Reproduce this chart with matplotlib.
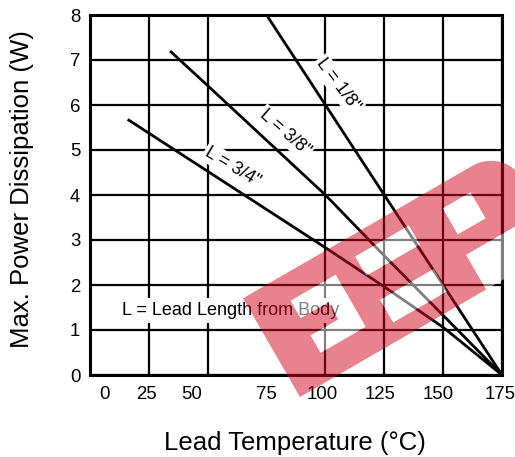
import matplotlib
matplotlib.use("Agg")
import matplotlib.pyplot as plt
import matplotlib.patches as mpatches
from matplotlib.path import Path
from matplotlib.transforms import Affine2D
import numpy as np

# ---- data ----
temp_18 = [75, 125, 175]          # L = 1/8"
power_18 = [8.0, 4.0, 0.0]
temp_38 = [34, 50, 100, 125, 175]  # L = 3/8"
power_38 = [7.2, 6.43, 4.0, 2.65, 0.0]
temp_34 = [16, 100, 125, 150, 175]  # L = 3/4"
power_34 = [5.68, 2.83, 1.96, 1.06, 0.0]

x_labels = ["0", "25", "50", "75", "100", "125", "150", "175"]
x_label_pos = [6, 24, 43, 75, 98.5, 123, 148, 174]
x_grid = [0, 25, 50, 75, 100, 125, 150, 175]
y_ticks = [0, 1, 2, 3, 4, 5, 6, 7, 8]

plt.rcParams['font.family'] = ['Liberation Sans', 'DejaVu Sans']

W, H = 515, 457
fig = plt.figure(figsize=(W / 100, H / 100), dpi=100)
ax = fig.add_axes([90 / W, 1 - 375 / H, 412 / W, 360 / H])

ax.set_xlim(0, 175)
ax.set_ylim(0, 8)

ax.set_xticks(x_grid, minor=True)
ax.set_xticks(x_label_pos, labels=x_labels)
ax.set_yticks(y_ticks)
ax.grid(which='minor', axis='x', color='black', lw=1.6)
ax.grid(which='major', axis='y', color='black', lw=1.6)
ax.tick_params(which='both', length=0)
ax.tick_params(axis='x', pad=8, labelsize=13.4)
ax.tick_params(axis='y', pad=7, labelsize=13.4)
for s in ax.spines.values():
    s.set_linewidth(2.2)
    s.set_color('black')
ax.set_axisbelow(True)

lk = dict(color='black', lw=2.0, solid_capstyle='butt', zorder=3)
ax.plot(temp_18, power_18, **lk)
ax.plot(temp_38, power_38, **lk)
ax.plot(temp_34, power_34, **lk)

bb = dict(facecolor='white', edgecolor='none', pad=1.5)
ax.text(105.3, 6.44, 'L = 1/8"', rotation=-53, ha='center', va='center',
        fontsize=13, bbox=bb, zorder=4)
ax.text(82.8, 5.38, 'L = 3/8"', rotation=-41, ha='center', va='center',
        fontsize=13, bbox=bb, zorder=4)
ax.text(60.7, 4.62, 'L = 3/4"', rotation=-31, ha='center', va='center',
        fontsize=13, bbox=bb, zorder=4)
ax.text(59.9, 1.44, 'L = Lead Length from Body', ha='center', va='center',
        fontsize=13, bbox=dict(facecolor='white', edgecolor='none', pad=3),
        zorder=4)

ax.set_xlabel('Lead Temperature (°C)', fontsize=18.5)
ax.set_ylabel('Max. Power Dissipation (W)', fontsize=18.5)
ax.xaxis.set_label_coords(0.4976, (375 - 443) / 360)
ax.xaxis.label.set_va('center')
ax.yaxis.set_label_coords((22 - 90) / 412, 0.517)
ax.yaxis.label.set_va('center')

# ---- watermark: rotated "EEP" logo block (local pixel units) ----
wm_tr = (Affine2D().rotate_deg(30).translate(300, H - 397).scale(1 / 100)
         + fig.dpi_scale_trans)


def oriented(poly, ccw=True):
    p = np.asarray(poly, float)
    area = 0.5 * np.sum(p[:, 0] * np.roll(p[:, 1], -1) - np.roll(p[:, 0], -1) * p[:, 1])
    if (area > 0) != ccw:
        p = p[::-1]
    return p


def rect(u0, u1, v0, v1):
    return [(u0, v0), (u1, v0), (u1, v1), (u0, v1)]


def compound(outer, holes):
    verts, codes = [], []
    for i, poly in enumerate([outer] + holes):
        p = oriented(poly, ccw=(i == 0))
        verts += list(map(tuple, p)) + [tuple(p[0])]
        codes += [Path.MOVETO] + [Path.LINETO] * (len(p) - 1) + [Path.CLOSEPOLY]
    return Path(verts, codes)


arc = [(265 + 37 * np.cos(t), 77 + 37 * np.sin(t)) for t in np.linspace(0, np.pi / 2, 16)]
outer = [(0, 0), (215, 0), (215, 40), (302, 40)] + arc + [(0, 114)]
gap_e1 = [(40, 28), (92, 28), (92, 88), (40, 88), (40, 68), (72, 68), (72, 48), (40, 48)]
holes = [gap_e1, rect(118, 180, 18, 44), rect(118, 180, 72, 94), rect(218, 250, 62, 92)]
fig.add_artist(mpatches.PathPatch(compound(outer, holes), transform=wm_tr,
                                  facecolor='#d0061e', edgecolor='none',
                                  alpha=0.5, zorder=10))
white_path = Path.make_compound_path(
    *[Path(list(map(tuple, oriented(h))) + [tuple(oriented(h)[0])],
           [Path.MOVETO] + [Path.LINETO] * (len(h) - 1) + [Path.CLOSEPOLY])
      for h in holes + [rect(215, 345, 0, 40)]])
fig.add_artist(mpatches.PathPatch(white_path, transform=wm_tr,
                                  facecolor='white', edgecolor='none',
                                  alpha=0.5, zorder=10))

fig.savefig('out.png', dpi=100)
